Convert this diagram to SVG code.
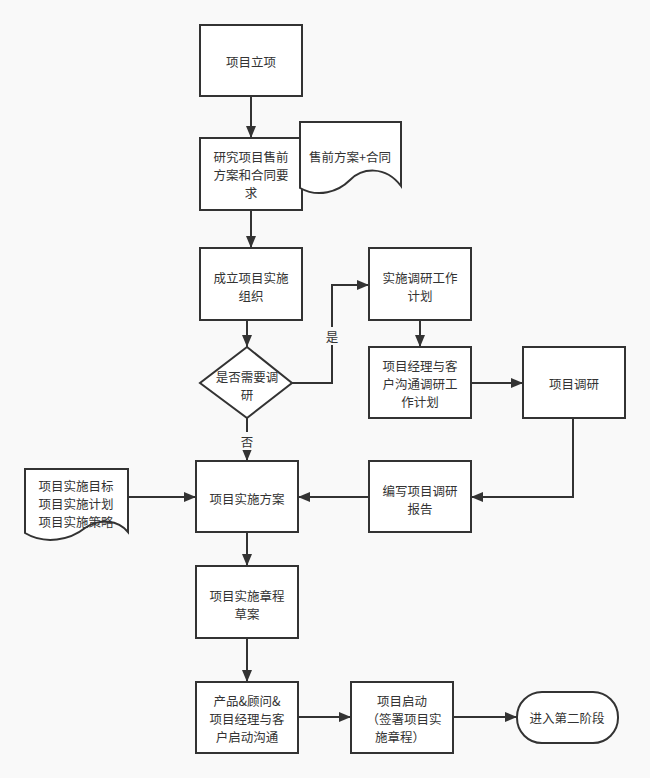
<svg xmlns="http://www.w3.org/2000/svg" width="650" height="778" viewBox="0 0 650 778">
<defs>
<marker id="arr" viewBox="0 0 12 10" refX="12" refY="5" markerWidth="12" markerHeight="10" markerUnits="userSpaceOnUse" orient="auto">
<path d="M0,0 L12,5 L0,10 Z" fill="#333"/>
</marker>
<style>
.box{fill:#fff;stroke:#333;stroke-width:2}
.t{font-family:"Noto Sans CJK SC","Noto Sans",sans-serif;font-size:12.5px;fill:#333;text-anchor:middle;dominant-baseline:central}
.c{fill:none;stroke:#333;stroke-width:2;marker-end:url(#arr)}
</style>
</defs>
<rect width="650" height="778" fill="#f9f9f9"/>
<g id="connectors">
<path class="c" d="M251,96 V138"/>
<path class="c" d="M251,210 V248"/>
<path class="c" d="M247,320 V347"/>
<path class="c" d="M292,383 H332 V285 H369"/>
<path class="c" d="M247,418 V461"/>
<path class="c" d="M420,320 V347"/>
<path class="c" d="M471,383 H523"/>
<path class="c" d="M573,418 V497 H471"/>
<path class="c" d="M369,497 H298"/>
<path class="c" d="M128,497 H196"/>
<path class="c" d="M247,532 V566"/>
<path class="c" d="M247,638 V682"/>
<path class="c" d="M297,717 H351"/>
<path class="c" d="M453,717 H517"/>
<rect x="324" y="327" width="16" height="18" fill="#f9f9f9"/>
<text class="t" x="332" y="336">是</text>
<rect x="239" y="432" width="16" height="18" fill="#f9f9f9"/>
<text class="t" x="247" y="441">否</text>
</g>
<g id="n1"><rect class="box" x="200" y="25" width="102" height="71"/><text class="t" x="251" y="61">项目立项</text></g>
<g id="n2"><rect class="box" x="200" y="138" width="102" height="72"/><text class="t" x="251" y="156">研究项目售前</text><text class="t" x="251" y="174">方案和合同要</text><text class="t" x="251" y="192">求</text></g>
<g id="doc1"><path class="box" d="M300,122 H401 V186 C385,165 362,168 350,180 C338,192 318,198 300,188 Z"/><text class="t" x="350" y="156">售前方案+合同</text></g>
<g id="n3"><rect class="box" x="200" y="248" width="102" height="72"/><text class="t" x="251" y="277">成立项目实施</text><text class="t" x="251" y="295">组织</text></g>
<g id="d1"><path class="box" d="M247,347 L292,383 L247,418 L200,383 Z"/><text class="t" x="247" y="376">是否需要调</text><text class="t" x="247" y="394">研</text></g>
<g id="n4"><rect class="box" x="369" y="248" width="102" height="72"/><text class="t" x="420" y="277">实施调研工作</text><text class="t" x="420" y="295">计划</text></g>
<g id="n5"><rect class="box" x="369" y="347" width="102" height="71"/><text class="t" x="420" y="365">项目经理与客</text><text class="t" x="420" y="383">户沟通调研工</text><text class="t" x="420" y="401">作计划</text></g>
<g id="n6"><rect class="box" x="523" y="347" width="102" height="71"/><text class="t" x="574" y="383">项目调研</text></g>
<g id="n7"><rect class="box" x="369" y="461" width="102" height="71"/><text class="t" x="420" y="490">编写项目调研</text><text class="t" x="420" y="508">报告</text></g>
<g id="n8"><rect class="box" x="196" y="461" width="102" height="71"/><text class="t" x="247" y="498">项目实施方案</text></g>
<g id="doc2"><path class="box" d="M25,469 H128 V532 C118,520 100,518 85,528 C70,540 45,545 25,533 Z"/><text class="t" x="76" y="485">项目实施目标</text><text class="t" x="76" y="503">项目实施计划</text><text class="t" x="76" y="521">项目实施策略</text></g>
<g id="n9"><rect class="box" x="196" y="566" width="102" height="72"/><text class="t" x="247" y="595">项目实施章程</text><text class="t" x="247" y="613">草案</text></g>
<g id="n10"><rect class="box" x="196" y="682" width="102" height="71"/><text class="t" x="247" y="700">产品&amp;顾问&amp;</text><text class="t" x="247" y="718">项目经理与客</text><text class="t" x="247" y="736">户启动沟通</text></g>
<g id="n11"><rect class="box" x="351" y="682" width="102" height="71"/><text class="t" x="402" y="700">项目启动</text><text class="t" x="404" y="718">（签署项目实</text><text class="t" x="400" y="736">施章程）</text></g>
<g id="n12"><rect class="box" x="517" y="692" width="101" height="51" rx="25" ry="25"/><text class="t" x="567" y="717">进入第二阶段</text></g>
</svg>
